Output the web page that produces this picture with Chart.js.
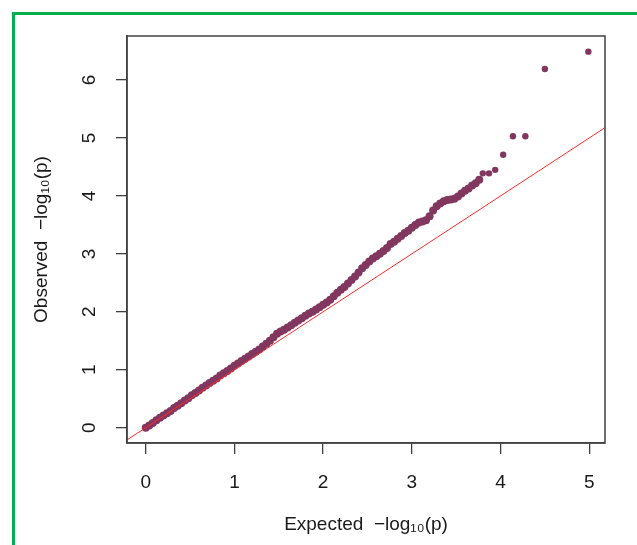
<!DOCTYPE html>
<html>
<head>
<meta charset="utf-8">
<script src="https://cdn.jsdelivr.net/npm/chart.js@4"></script>
<style>
  html, body { margin: 0; padding: 0; background: #fff; overflow: hidden; }
  #wrap { position: relative; width: 637px; height: 545px; }
  #frame { position: absolute; left: 12px; top: 12px; width: 700px; height: 600px; border: 3px solid #00b050; }
  canvas { position: absolute; left: 0; top: 0; }
</style>
</head>
<body>
<div id="wrap">
  <div id="frame"></div>
  <canvas id="qqChart" width="637" height="545"></canvas>
</div>
<script>
// expected vs observed -log10(p)
const expected = [
  0.00, 0.04, 0.08, 0.12, 0.16, 0.20, 0.24, 0.28, 0.32, 0.36,
  0.40, 0.44, 0.48, 0.52, 0.56, 0.60, 0.64, 0.68, 0.72, 0.76,
  0.80, 0.84, 0.88, 0.92, 0.96, 1.00, 1.04, 1.08, 1.12, 1.16,
  1.20, 1.24, 1.28, 1.32, 1.36, 1.40, 1.44, 1.48, 1.52, 1.56,
  1.60, 1.64, 1.68, 1.72, 1.76, 1.80, 1.84, 1.88, 1.92, 1.96,
  2.00, 2.04, 2.08, 2.12, 2.16, 2.20, 2.24, 2.28, 2.32, 2.36,
  2.40, 2.44, 2.48, 2.52, 2.56, 2.60, 2.64, 2.68, 2.72, 2.76,
  2.80, 2.84, 2.88, 2.92, 2.96, 3.00, 3.04, 3.08, 3.12, 3.16,
  3.20, 3.24, 3.28, 3.32, 3.36, 3.40, 3.44, 3.48, 3.52, 3.56,
  3.60, 3.64, 3.68, 3.72, 3.76,
  3.80, 3.87, 3.94, 4.03, 4.14, 4.28, 4.50, 4.99
];
const observed = [
  0.00, 0.04, 0.08, 0.13, 0.17, 0.21, 0.25, 0.29, 0.34, 0.38,
  0.42, 0.47, 0.51, 0.56, 0.60, 0.64, 0.69, 0.73, 0.77, 0.81,
  0.85, 0.90, 0.94, 0.98, 1.02, 1.07, 1.11, 1.15, 1.19, 1.23,
  1.27, 1.31, 1.35, 1.40, 1.45, 1.50, 1.56, 1.62, 1.66, 1.69,
  1.73, 1.77, 1.81, 1.85, 1.89, 1.93, 1.97, 2.00, 2.04, 2.08,
  2.12, 2.16, 2.21, 2.27, 2.33, 2.38, 2.43, 2.49, 2.55, 2.61,
  2.68, 2.75, 2.81, 2.87, 2.92, 2.96, 3.00, 3.05, 3.10, 3.17,
  3.21, 3.26, 3.31, 3.36, 3.40, 3.45, 3.50, 3.54, 3.56, 3.58,
  3.65, 3.75, 3.82, 3.87, 3.91, 3.93, 3.94, 3.95, 3.99, 4.04,
  4.09, 4.13, 4.18, 4.22, 4.28,
  4.39, 4.39, 4.45, 4.71, 5.03, 5.03, 6.19, 6.49
];
// y = x reference line
const refX = [-1, 7];
const refY = [-1, 7];

const xTicks = [0, 1, 2, 3, 4, 5];
const yTicks = [0, 1, 2, 3, 4, 5, 6];

const font = "'Liberation Sans', Arial, sans-serif";
const denseCount = 95; // points that overlap into the band

const boxPlugin = {
    id: 'box',
    afterDraw(chart) {
        const { ctx, chartArea: a } = chart;
        ctx.save();
        ctx.strokeStyle = '#404040';
        ctx.lineWidth = 1.5;
        ctx.strokeRect(a.left, a.top, a.right - a.left, a.bottom - a.top);
        ctx.restore();
    }
};

const ctx = document.getElementById('qqChart').getContext('2d');

new Chart(ctx, {
    type: 'scatter',
    data: {
        datasets: [
            {
                label: 'y = x',
                type: 'line',
                data: refX.map((x, i) => ({ x: x, y: refY[i] })),
                borderColor: '#ff2a2a',
                borderWidth: 1,
                pointRadius: 0,
                fill: false,
                order: 0
            },
            {
                label: 'QQ',
                data: expected.map((x, i) => ({ x: x, y: observed[i] })),
                backgroundColor: '#82375f',
                borderWidth: 0,
                pointRadius: c => (c.dataIndex < denseCount ? 4 : 3.2),
                order: 1
            }
        ]
    },
    options: {
        responsive: false,
        animation: false,
        devicePixelRatio: 1,
        layout: { padding: { top: 36, right: 32, left: 0, bottom: 0 } },
        plugins: {
            legend: { display: false },
            tooltip: { enabled: false }
        },
        scales: {
            x: {
                type: 'linear',
                min: -0.211,
                max: 5.178,
                afterFit: s => { s.height = 102; },
                afterBuildTicks: s => { s.ticks = xTicks.map(v => ({ value: v })); },
                ticks: { color: '#1a1a1a', font: { family: font, size: 19 }, padding: 17, includeBounds: false, maxRotation: 0 },
                grid: { drawOnChartArea: false, drawTicks: true, tickLength: 11, color: '#404040', lineWidth: 1.3 },
                border: { display: true, color: '#404040', width: 1.5 },
                title: {
                    display: true,
                    text: 'Expected  \u2212log\u2081\u2080(p)',
                    color: '#1a1a1a',
                    font: { family: font, size: 19 },
                    padding: { top: 0, bottom: 9 }
                }
            },
            y: {
                type: 'linear',
                min: -0.264,
                max: 6.76,
                afterFit: s => { s.width = 127; },
                afterBuildTicks: s => { s.ticks = yTicks.map(v => ({ value: v })); },
                ticks: { color: '#1a1a1a', font: { family: font, size: 19 }, padding: 21, minRotation: 90, maxRotation: 90, crossAlign: 'center', includeBounds: false },
                grid: { drawOnChartArea: false, drawTicks: true, tickLength: 11, color: '#404040', lineWidth: 1.3 },
                border: { display: true, color: '#404040', width: 1.5 },
                title: {
                    display: true,
                    text: 'Observed  \u2212log\u2081\u2080(p)',
                    color: '#1a1a1a',
                    font: { family: font, size: 19 },
                    padding: { top: 30, bottom: 0 }
                }
            }
        }
    },
    plugins: [boxPlugin]
});
</script>
</body>
</html>
